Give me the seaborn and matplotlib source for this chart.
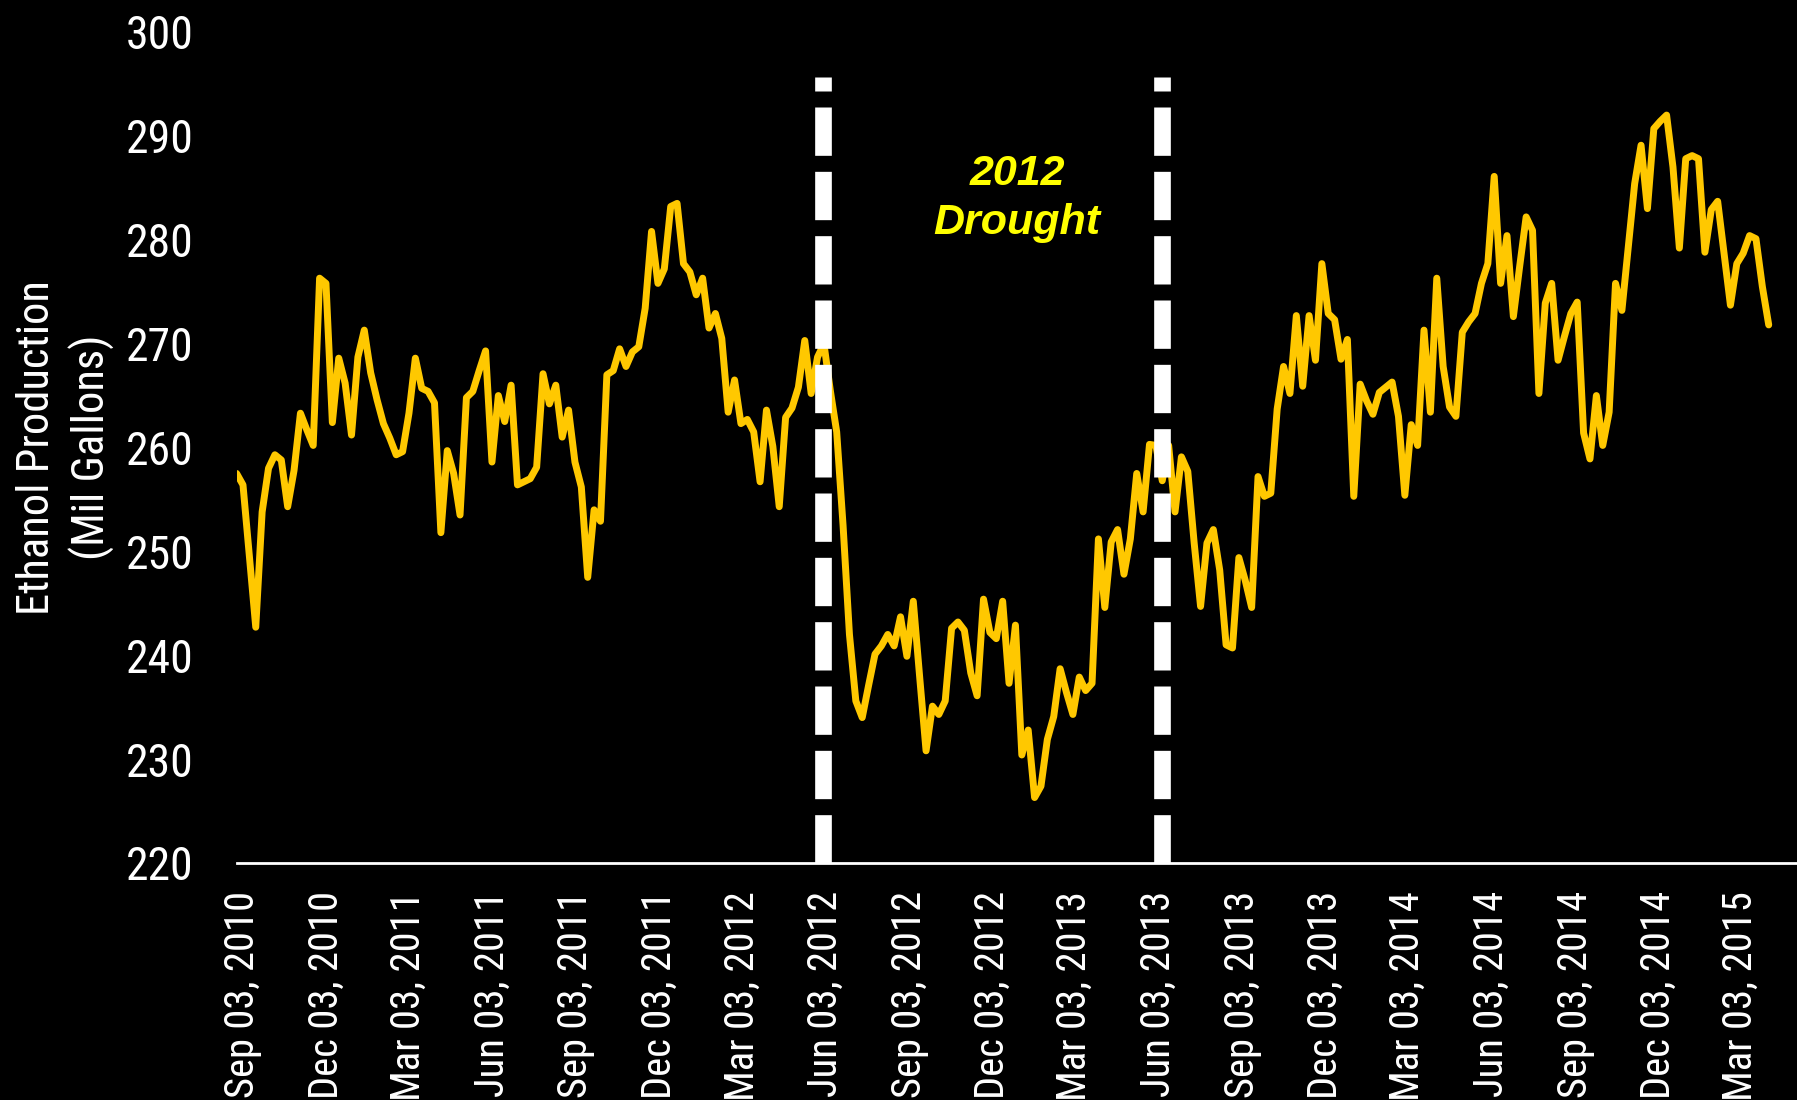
import os
import numpy as np
import pandas as pd
import matplotlib
matplotlib.use("Agg")
import matplotlib.pyplot as plt
import matplotlib.dates as mdates
from matplotlib import font_manager
from matplotlib.font_manager import FontProperties
from matplotlib.textpath import TextPath
import seaborn as sns

# ---------------- data ----------------
start_date = "2010-08-27"          # weekly series (Fridays)
production = [
    257.5, 256.4, 249.5, 242.7, 253.8, 258.0, 259.3, 258.8, 254.3, 257.8,
    263.3, 261.7, 260.2, 276.3, 275.8, 262.4, 268.6, 266.2, 261.2, 268.7,
    271.3, 267.2, 264.6, 262.3, 260.9, 259.3, 259.6, 263.3, 268.6, 265.7,
    265.4, 264.3, 251.8, 259.7, 257.5, 253.5, 264.8,
    265.4, 267.4, 269.3, 258.6, 265.0, 262.5, 266.0, 256.4, 256.7, 257.0,
    258.1, 267.1, 264.2, 266.0, 261.0, 263.6, 258.6, 256.2, 247.5, 254.0,
    252.9, 267.0, 267.4, 269.5, 267.8, 269.2, 269.7, 273.4, 280.8, 275.8,
    277.2, 283.2, 283.5, 277.7, 276.9, 274.7,
    276.3, 271.5, 272.9, 270.5, 263.4, 266.5, 262.3, 262.7, 261.5, 256.7,
    263.6, 260.1, 254.3, 262.9, 263.8, 265.8, 270.3, 265.2, 268.7, 270.0,
    265.5, 261.5, 252.5,
    242.0, 235.6, 234.0, 237.1, 240.1, 240.9, 242.0, 240.9, 243.7, 239.9,
    245.2, 237.9, 230.8, 235.1, 234.3, 235.6, 242.6, 243.2, 242.4, 238.3,
    236.1, 245.4, 242.2, 241.6, 245.2, 237.3, 242.9, 230.4, 232.8, 226.3,
    227.4, 231.9, 234.1, 238.7, 236.4, 234.3, 237.9, 236.6, 237.3, 251.2,
    244.6, 250.9, 252.1, 247.8, 251.2, 257.5, 253.8, 260.3, 260.2, 256.8,
    260.2, 253.8, 259.1, 257.7, 250.8, 244.7, 250.8, 252.1, 248.2, 241.0,
    240.7, 249.4, 247.2, 244.6, 257.2, 255.3, 255.6, 263.7, 267.8, 265.2,
    272.7, 265.9, 272.7, 268.4, 277.7, 272.9, 272.3, 268.5, 270.4, 255.3,
    266.1, 264.5,
    263.2, 265.3, 265.8, 266.3, 263.0, 255.4, 262.2, 260.2, 271.3, 263.4,
    276.3, 267.8, 263.9, 263.0, 271.1, 272.1, 272.9, 275.8, 277.7, 286.1,
    275.8, 280.4, 272.6, 277.5, 282.2, 280.9, 265.2, 273.9, 275.8, 268.4,
    270.7, 272.9, 274.0, 261.4, 258.9, 265.0, 260.2, 263.4, 275.8, 273.2,
    279.3, 285.4, 289.1, 283.0, 290.7, 291.4, 292.0, 287.0, 279.2, 287.8,
    288.1, 287.8, 278.8, 282.9, 283.7, 278.7, 273.7, 277.7, 278.7, 280.4,
    280.1, 275.5, 271.8,
]
drought_dates = ["2012-05-31", "2013-06-07"]
drought_line_top = 295.7
annotation_text = "2012\nDrought"
annotation_date = "2012-12-30"
annotation_value = 284.0
tick_start, tick_end = "2010-09-03", "2015-03-03"
x_limits = ("2010-08-27", "2015-05-04")
y_ticks = list(range(220, 301, 10))
y_label_lines = ["Ethanol Production", "(Mil Gallons)"]

dates = pd.date_range(start_date, periods=len(production), freq="7D")
df = pd.DataFrame({"date": dates, "production": production})
tick_dates = pd.date_range(tick_start, tick_end, freq=pd.DateOffset(months=3))

# ---------------- style ----------------
sns.set_style("dark", {"axes.facecolor": "black", "figure.facecolor": "black"})


def pick(fams):
    for f in fams:
        try:
            font_manager.findfont(FontProperties(family=f),
                                  fallback_to_default=False)
            return f
        except Exception:
            pass
    return "DejaVu Sans"


def find_condensed():
    files = [f.fname for f in font_manager.fontManager.ttflist]
    pats = ["liberationsansnarrow-regular", "arialnarrow.",
            "robotocondensed-regular", "roboto_condensed-regular",
            "opensans_condensed-regular", "opensanscondensed-regular",
            "opensans-condensedregular", "notosans-condensed.",
            "notosans-condensedregular", "dejavusanscondensed."]
    for p in pats:
        for f in files:
            if p in os.path.basename(f).lower().replace(" ", ""):
                return f
    bad = ("bold", "italic", "oblique", "light", "thin", "medium", "semi",
           "black", "extra", "mono", "serif")
    for f in files:
        b = os.path.basename(f).lower()
        if ("condensed" in b or "narrow" in b) and not any(x in b for x in bad):
            return f
    return None


regular = pick(["Liberation Sans", "Arial", "DejaVu Sans"])
plt.rcParams["font.family"] = [regular, "DejaVu Sans"]
cpath = find_condensed()
label_fp = FontProperties(fname=cpath) if cpath else FontProperties(family=regular)


def fit_size(text, target_px, fp):
    w = TextPath((0, 0), text, size=100, prop=fp).get_extents().width
    return target_px * 72.0 / w


x_tick_size = fit_size("Sep 03, 2010", 203, label_fp)
y_tick_size = fit_size("300", 63, label_fp)
y_label_size = fit_size(y_label_lines[0], 328, label_fp)

W, H = 1797, 1100
fig = plt.figure(figsize=(W / 100, H / 100), dpi=100, facecolor="black")
left_px, top_px, bottom_px = 236.6, 32, 863
ax = fig.add_axes([left_px / W, 1 - bottom_px / H,
                   1 - left_px / W, (bottom_px - top_px) / H])
ax.set_facecolor("black")

sns.lineplot(data=df, x="date", y="production", ax=ax, color="#FFC800",
             linewidth=5.0, estimator=None)
for ln in ax.get_lines():
    ln.set_solid_joinstyle("round")
    ln.set_solid_capstyle("round")

for d in drought_dates:
    ax.plot([pd.Timestamp(d), pd.Timestamp(d)], [y_ticks[0], drought_line_top],
            color="white", linewidth=12, dashes=(2.9, 0.96),
            dash_capstyle="butt", zorder=5)

ax.text(pd.Timestamp(annotation_date), annotation_value, annotation_text,
        ha="center", va="center", color="#FFFF00", fontsize=31,
        fontweight="bold", fontstyle="italic", family=regular,
        linespacing=1.3, zorder=6)

ax.set_xlim(pd.Timestamp(x_limits[0]), pd.Timestamp(x_limits[1]))
ax.set_ylim(y_ticks[0], y_ticks[-1])
ax.set_yticks(y_ticks)
ax.set_xticks(tick_dates)
ax.xaxis.set_major_formatter(mdates.DateFormatter("%b %d, %Y"))
ax.grid(False)

for s in ["top", "right", "left"]:
    ax.spines[s].set_visible(False)
ax.spines["bottom"].set_color("white")
ax.spines["bottom"].set_linewidth(2.0)

ax.tick_params(axis="x", length=0, colors="white", pad=20, labelrotation=90)
ax.tick_params(axis="y", length=0, colors="white", pad=31)
fig.canvas.draw()
for lab in ax.get_xticklabels():
    lab.set_fontproperties(label_fp)
    lab.set_fontsize(x_tick_size)
    lab.set_ha("center")
    lab.set_va("top")
for lab in ax.get_yticklabels():
    lab.set_fontproperties(label_fp)
    lab.set_fontsize(y_tick_size)

ax.set_xlabel("")
ax.set_ylabel("\n".join(y_label_lines), color="white", linespacing=1.3)
ax.yaxis.label.set_fontproperties(label_fp)
ax.yaxis.label.set_fontsize(y_label_size)
ax.yaxis.set_label_coords(-0.1097, 0.5)
ax.yaxis.label.set_va("center")

fig.savefig("out.png", dpi=100, facecolor="black")
